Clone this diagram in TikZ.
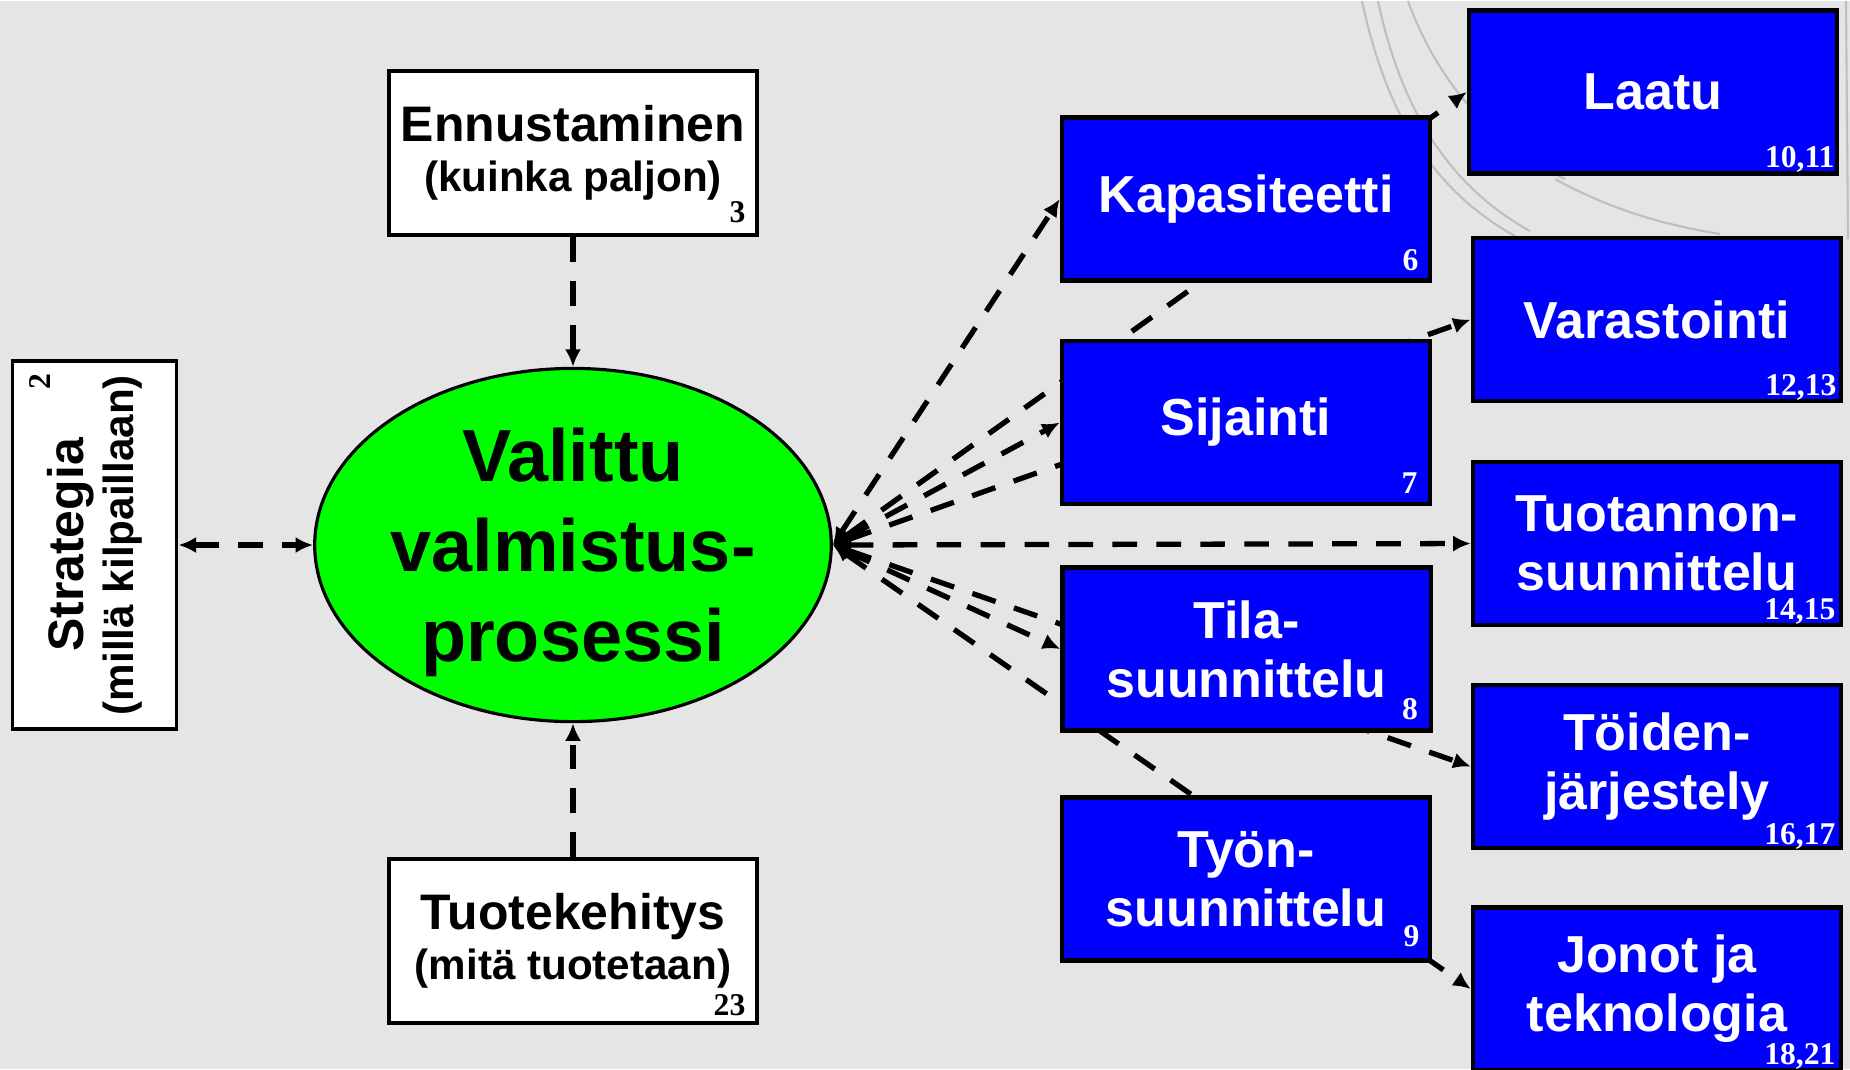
\documentclass[tikz,border=0pt]{standalone}
\usepackage{fontspec}
\setmainfont{Liberation Sans}
\newfontfamily\numfont{Liberation Serif}
\usetikzlibrary{arrows.meta,shapes.geometric}

\definecolor{taustaharmaa}{RGB}{229,229,229}
\definecolor{sininen}{RGB}{0,0,255}
\definecolor{vihrea}{RGB}{0,255,0}

\pgfdeclarelayer{tausta}
\pgfdeclarelayer{viivat}
\pgfsetlayers{tausta,viivat,main}

\newcommand\alarivi{\fontsize{12}{14.2}\selectfont}

\tikzset{
  sinilaatikko/.style={draw=black, line width=1.2pt, fill=sininen, text=white,
    minimum width=3.68cm, minimum height=1.63cm, inner sep=0pt, align=center,
    font=\bfseries\fontsize{14.8}{16.8}\selectfont},
  valkolaatikko/.style={draw=black, line width=1.1pt, fill=white,
    minimum width=3.68cm, minimum height=1.64cm, inner sep=0pt, align=center,
    font=\bfseries\fontsize{14.2}{14.2}\selectfont},
  prosessi/.style={ellipse, draw=black, line width=0.9pt, fill=vihrea,
    minimum width=5.14cm, minimum height=3.53cm, inner sep=0pt, align=center,
    text depth=0pt, font=\bfseries\fontsize{21}{25.6}\selectfont},
  nro/.style={anchor=base east, inner sep=0pt, font=\numfont\bfseries\fontsize{9}{9}\selectfont},
  linkki/.style={dash pattern=on 7pt off 5.5pt, line width=1.5pt,
    >={Latex[length=5pt,width=4.6pt]}},
  pallo/.style={draw=gray!50, line width=0.6pt},
}

\begin{document}
\begin{tikzpicture}[x=0.01cm, y=0.01cm]

\begin{pgfonlayer}{tausta}
\fill[taustaharmaa] (0,0) rectangle (1850,1068);
% maapallon viivat taustalla
\draw[pallo] (1362,1068) .. controls (1385,960) and (1430,880) .. (1515,833);
\draw[pallo] (1378,1068) .. controls (1400,965) and (1445,885) .. (1530,838);
\draw[pallo] (1408,1068) .. controls (1440,980) and (1500,920) .. (1565,890);
\draw[pallo] (1555,890) .. controls (1610,860) and (1660,845) .. (1720,835);
\draw[pallo] (1846,1068) -- (1848,830);
\end{pgfonlayer}
\useasboundingbox (0,0) rectangle (1850,1068);

% keskella
\node[prosessi] (valittu) at (573,524) {Valittu\\valmistus-\\prosessi};

% vasen puoli
\node[valkolaatikko] (ennu) at (573,916) {Ennustaminen\\{\alarivi (kuinka paljon)}};
\node[nro] (ennunro) at ([shift={(-13,15)}]ennu.south east) {3};
\node[valkolaatikko] (tuote) at (573,128) {Tuotekehitys\\{\alarivi (mitä tuotetaan)}};
\node[nro] (tuotenro) at ([shift={(-13,10)}]tuote.south east) {23};
\node[valkolaatikko, rotate=90] (strat) at (94.5,524) {Strategia\\{\alarivi (millä kilpaillaan)}};
\node[nro, rotate=90] (stratnro) at ([shift={(40,-14)}]strat.north east) {2};

% oikea puoli
\node[sinilaatikko] (laatu) at (1653,977) {Laatu};
\node[sinilaatikko] (kapa) at (1246,870) {Kapasiteetti};
\node[sinilaatikko] (vara) at (1657,749.5) {Varastointi};
\node[sinilaatikko] (sij) at (1246,646.5) {Sijainti};
\node[sinilaatikko] (tuot) at (1657,525.5) {Tuotannon-\\suunnittelu};
\node[sinilaatikko] (tila) at (1246.5,420) {Tila-\\suunnittelu};
\node[sinilaatikko] (toid) at (1657,302.5) {Töiden-\\järjestely};
\node[sinilaatikko] (tyon) at (1246,190) {Työn-\\suunnittelu};
\node[sinilaatikko] (jonot) at (1657,80) {Jonot ja\\teknologia};

\node[nro, text=white] (laatunro) at ([shift={(-4,8)}]laatu.south east) {10,11};
\node[nro, text=white] (kapanro) at ([shift={(-13,12)}]kapa.south east) {6};
\node[nro, text=white] (varanro) at ([shift={(-6,8)}]vara.south east) {12,13};
\node[nro, text=white] (sijnro) at ([shift={(-14,13)}]sij.south east) {7};
\node[nro, text=white] (tuotnro) at ([shift={(-7,8)}]tuot.south east) {14,15};
\node[nro, text=white] (tilanro) at ([shift={(-14,13)}]tila.south east) {8};
\node[nro, text=white] (toidnro) at ([shift={(-7,6)}]toid.south east) {16,17};
\node[nro, text=white] (tyonnro) at ([shift={(-12,16)}]tyon.south east) {9};
\node[nro, text=white] (jonotnro) at ([shift={(-7,8)}]jonot.south east) {18,21};

% nuolet
\draw[linkki, <->] (strat.south) -- (valittu.west);
\draw[linkki, ->] (ennu.south) -- (valittu.north);
\draw[linkki, ->] (tuote.north) -- (valittu.south);
\begin{pgfonlayer}{viivat}
\foreach \kohde in {kapa, laatu, sij, vara, tuot, tila, toid, jonot}
  \draw[linkki, <->] (valittu.east) -- (\kohde.west);
\end{pgfonlayer}

\end{tikzpicture}
\end{document}
